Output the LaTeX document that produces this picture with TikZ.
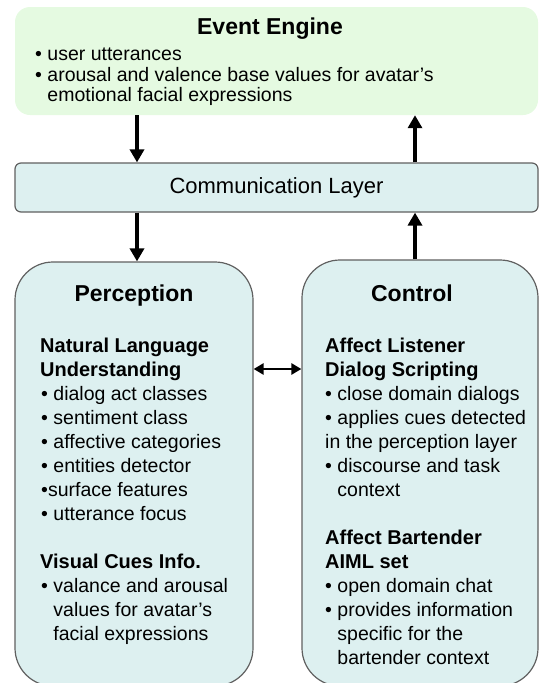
\documentclass[tikz,border=0pt]{standalone}
\usepackage{fontspec}
\setmainfont{Liberation Sans}
\usetikzlibrary{arrows.meta}

\definecolor{enginefill}{RGB}{229,250,225}
\definecolor{layerfill}{RGB}{221,240,240}
\definecolor{layeredge}{RGB}{96,96,96}
\newcommand{\ind}{\phantom{•\ }}

\tikzset{
  layerbox/.style={draw=layeredge, line width=1.2pt, fill=layerfill, inner sep=0pt},
  titletext/.style={anchor=base, font=\bfseries\fontsize{23}{26}\selectfont},
  headtext/.style={anchor=north west, inner sep=0pt, align=left, font=\bfseries\fontsize{20}{24}\selectfont},
  bodytext/.style={anchor=north west, inner sep=0pt, align=left, font=\fontsize{19.5}{24}\selectfont},
  thickarrow/.style={line width=3.5pt, -{Triangle[length=13pt,width=14pt]}},
}

\begin{document}
\begin{tikzpicture}[x=1pt, y=-1pt]
\useasboundingbox (0,0) rectangle (540,683);
\clip (0,0) rectangle (540,683);

% boxes
\node[fill=enginefill, rounded corners=15pt, minimum width=523pt, minimum height=108pt] (engine) at (276.5,61) {};
\node[layerbox, rounded corners=6pt, minimum width=523pt, minimum height=49pt] (comm) at (276.5,187.5) {};
\node[layerbox, rounded corners=38pt, minimum width=238pt, minimum height=424pt] (percept) at (134,474) {};
\node[layerbox, rounded corners=38pt, minimum width=236pt, minimum height=426pt] (control) at (420,473) {};

% arrows
\draw[thickarrow] (137,0 |- engine.south) -- (137,0 |- comm.north);
\draw[thickarrow] (415,0 |- comm.north) -- (415,0 |- engine.south);
\draw[thickarrow] (137,0 |- comm.south) -- (137,0 |- percept.north);
\draw[thickarrow] (415,0 |- control.north) -- (415,0 |- comm.south);
\draw[line width=2.5pt, {Triangle[length=10pt,width=11pt]}-{Triangle[length=10pt,width=11pt]}] (percept.east |- 0,369) -- (control.west |- 0,369);

% event engine
\node[titletext] (enginetitle) at (270,34) {Event Engine};
\node[bodytext, font=\fontsize{19.5}{20.5}\selectfont] (enginelist) at (35,48) {• user utterances\\• arousal and valence base values for avatar's\\\ind emotional facial expressions};

% communication layer
\node[font=\fontsize{22}{26}\selectfont] (commtext) at (comm) {Communication Layer};

% perception
\node[titletext] (perceptitle) at (134,301) {Perception};
\node[headtext] (nlu) at (40,338) {Natural Language\\Understanding};
\node[bodytext] (nlulist) at (41,386) {• dialog act classes\\• sentiment class\\• affective categories\\• entities detector\\•surface features\\• utterance focus};
\node[headtext] (visual) at (40,554) {Visual Cues Info.};
\node[bodytext] (visuallist) at (41,578) {• valance and arousal\\\ind values for avatar's\\\ind facial expressions};

% control
\node[titletext] (controltitle) at (412,301) {Control};
\node[headtext] (listener) at (325,338) {Affect Listener\\Dialog Scripting};
\node[bodytext] (listenerlist) at (325,386) {• close domain dialogs\\• applies cues detected\\in the perception layer\\• discourse and task\\\ind context};
\node[headtext] (bartender) at (325,530) {Affect Bartender\\AIML set};
\node[bodytext] (bartenderlist) at (325,578) {• open domain chat\\• provides information\\\ind specific for the\\\ind bartender context};

\end{tikzpicture}
\end{document}
